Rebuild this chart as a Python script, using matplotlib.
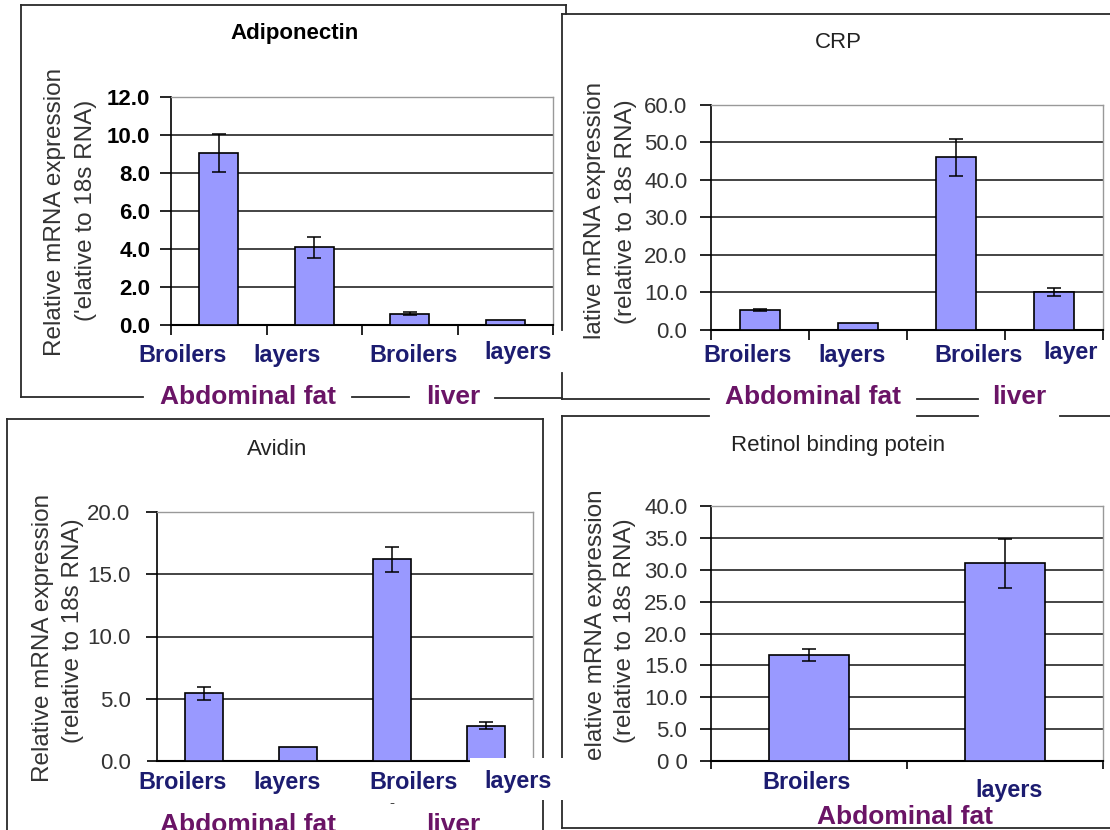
import numpy as np
import matplotlib
matplotlib.use("Agg")
import matplotlib.pyplot as plt
from matplotlib.lines import Line2D
from matplotlib.patches import Rectangle

plt.rcParams['font.family'] = ['Liberation Sans', 'DejaVu Sans']

W, H = 1110, 830

# ---- data -------------------------------------------------------------
adipo_groups = ["Broilers", "layers", "Broilers", "layers"]
adipo_mean = [9.05, 4.1, 0.6, 0.25]
adipo_err = [0.98, 0.55, 0.1, 0.0]
adipo_ticks = [0, 2, 4, 6, 8, 10, 12]
adipo_ticklabels = ["0.0", "2.0", "4.0", "6.0", "8.0", "10.0", "12.0"]

crp_groups = ["Broilers", "layers", "Broilers", "layer"]
crp_mean = [5.4, 1.8, 46.0, 10.2]
crp_err = [0.25, 0.0, 4.9, 1.1]
crp_ticks = [0, 10, 20, 30, 40, 50, 60]
crp_ticklabels = ["0.0", "10.0", "20.0", "30.0", "40.0", "50.0", "60.0"]

avidin_groups = ["Broilers", "layers", "Broilers", "layers"]
avidin_mean = [5.44, 1.12, 16.2, 2.85]
avidin_err = [0.53, 0.0, 1.0, 0.27]
avidin_ticks = [0, 5, 10, 15, 20]
avidin_ticklabels = ["0.0", "5.0", "10.0", "15.0", "20.0"]

rbp_groups = ["Broilers", "layers"]
rbp_mean = [16.6, 31.0]
rbp_err = [0.95, 3.9]
rbp_ticks = [0, 5, 10, 15, 20, 25, 30, 35, 40]
rbp_ticklabels = ["0 0", "5.0", "10.0", "15.0", "20.0", "25.0", "30.0", "35.0", "40.0"]

BAR = '#9999ff'
NAVY = '#1c1c70'
PURPLE = '#6a1466'
FRAME = '#2a2a2a'

fig = plt.figure(figsize=(W / 100, H / 100), dpi=100)
fig.patch.set_facecolor('white')


def fx(x):
    return x / W


def fy(y):
    return 1 - y / H


def txt(x, y, s, zorder=3, **kw):
    kw.setdefault('ha', 'center')
    kw.setdefault('va', 'center')
    return fig.text(fx(x), fy(y), s, zorder=zorder, **kw)


def seg(x0, y0, x1, y1, color=FRAME, lw=1.3):
    fig.add_artist(Line2D([fx(x0), fx(x1)], [fy(y0), fy(y1)], color=color,
                          lw=lw, transform=fig.transFigure, solid_capstyle='projecting'))


def panel(rect, means, errs, ticks, ticklabels, tick_bold, tick_color,
          xtick_len, pad, width=0.41):
    l, t, r, b = rect
    ax = fig.add_axes([fx(l), fy(b), (r - l) / W, (b - t) / H])
    n = len(means)
    x = np.arange(n) + 0.5
    ax.bar(x, means, width=width, color=BAR, edgecolor='black',
           linewidth=1.2, zorder=3)
    e = np.array(errs)
    m = e > 0
    ax.errorbar(x[m], np.array(means)[m], yerr=e[m], fmt='none', ecolor='black',
                elinewidth=1.1, capsize=5, capthick=1.1, zorder=4)
    ax.set_xlim(0, n)
    ax.set_ylim(ticks[0], ticks[-1])
    for yv in ticks[1:-1]:
        ax.axhline(yv, color='#111111', lw=1.1, zorder=1)
    ax.set_yticks(ticks)
    ax.set_yticklabels(ticklabels, fontsize=16,
                       fontweight='bold' if tick_bold else 'normal',
                       color=tick_color)
    ax.set_xticks(np.arange(n + 1))
    ax.set_xticklabels([])
    ax.tick_params(axis='y', direction='out', length=8, width=1.2, pad=pad)
    ax.tick_params(axis='x', direction='out', length=xtick_len, width=1.2)
    ax.spines['left'].set_color('black')
    ax.spines['left'].set_linewidth(1.2)
    ax.spines['bottom'].set_color('black')
    ax.spines['bottom'].set_linewidth(1.5)
    for s in ('top', 'right'):
        ax.spines[s].set_color('#999999')
        ax.spines[s].set_linewidth(1.0)
    ax.set_facecolor('white')
    return ax


lab_kw = dict(fontsize=16.8, fontweight='bold', color=NAVY)
grp_kw = dict(fontsize=19, fontweight='bold', color=PURPLE)
ylab_kw = dict(fontsize=17.5, color='#333333', rotation=90)
title_kw = dict(fontsize=16, color='#222222')

# ---- Adiponectin ------------------------------------------------------
panel((171, 97, 553, 325), adipo_mean, adipo_err, adipo_ticks,
      adipo_ticklabels, True, 'black', 7, 7)
txt(294.5, 33, "Adiponectin", fontsize=16, fontweight='bold', color='black')
txt(55, 212, "Relative mRNA expression", **ylab_kw)
txt(86, 210, "('elative to 18s RNA)", **ylab_kw)
for cx, cy, s in zip([183, 287.5, 413.5, 518], [355, 355, 355, 352], adipo_groups):
    txt(cx, cy, s, **lab_kw)
txt(247.5, 397, "Abdominal fat", **grp_kw)
txt(453.5, 397, "liver", **grp_kw)

# frame
seg(21, 5, 566, 5)
seg(566, 5, 566, 14)
seg(21, 5, 21, 397)
seg(21, 397, 143, 397)
seg(352, 397, 409, 397)
seg(495, 398, 562, 398)

# ---- CRP --------------------------------------------------------------
panel((711, 104.5, 1103, 330), crp_mean, crp_err, crp_ticks,
      crp_ticklabels, False, '#333333', 7, 9)
txt(838, 43, "CRP", **title_kw)
txt(595, 210, "lative mRNA expression", **ylab_kw)
txt(626, 212, "(relative to 18s RNA)", **ylab_kw)
for cx, cy, s in zip([748, 852, 979, 1071], [355, 355, 355, 352], crp_groups):
    txt(cx, cy, s, **lab_kw)
txt(813, 397, "Abdominal fat", **grp_kw)
txt(1019.5, 397, "liver", **grp_kw)

seg(562, 14, 1110, 14)
seg(562, 14, 562, 330)
seg(562, 373, 562, 399)
seg(562, 399, 709, 399)
seg(917, 399, 978, 399)

# ---- Avidin -----------------------------------------------------------
panel((157, 512, 533, 761), avidin_mean, avidin_err, avidin_ticks,
      avidin_ticklabels, False, '#333333', 0, 11)
txt(277, 449, "Avidin", **title_kw)
txt(43, 638, "Relative mRNA expression", **ylab_kw)
txt(73, 631, "(relative to 18s RNA)", **ylab_kw)
# white label boxes laid over the lower edge of the plot
fig.add_artist(Rectangle((fx(130.5), fy(775)), 16.5 / W, 17 / H,
                         transform=fig.transFigure, facecolor='white',
                         edgecolor='none', zorder=5))
fig.add_artist(Rectangle((fx(470), fy(800)), 96 / W, 42 / H,
                         transform=fig.transFigure, facecolor='white',
                         edgecolor='none', zorder=5))
for cx, cy, s in zip([183, 287.5, 413.5, 518], [782, 782, 782, 781], avidin_groups):
    txt(cx, cy, s, zorder=6, **lab_kw)
txt(392, 803, "-", fontsize=11, color='#444444')
txt(247.5, 825, "Abdominal fat", **grp_kw)
txt(453.5, 825, "liver", **grp_kw)

seg(7, 419, 543, 419)
seg(7, 419, 7, 832)
seg(543, 419, 543, 758)
seg(543, 800, 543, 832)

# ---- Retinol binding potein ---------------------------------------------
panel((711, 506, 1103, 761), rbp_mean, rbp_err, rbp_ticks,
      rbp_ticklabels, False, '#333333', 6, 9, width=0.41)
txt(838, 445, "Retinol binding potein", **title_kw)
txt(596, 625, "elative mRNA expression", **ylab_kw)
txt(625, 631, "(relative to 18s RNA)", **ylab_kw)
txt(807, 782, rbp_groups[0], **lab_kw)
txt(1009, 790, rbp_groups[1], **lab_kw)
txt(905, 817, "Abdominal fat", **grp_kw)

seg(562, 416, 709, 416)
seg(917, 416, 978, 416)
seg(1060, 416, 1112, 416)
seg(562, 416, 562, 758)
seg(562, 800, 562, 828)
seg(562, 828, 1112, 828)

fig.savefig("out.png", dpi=100, facecolor='white')
